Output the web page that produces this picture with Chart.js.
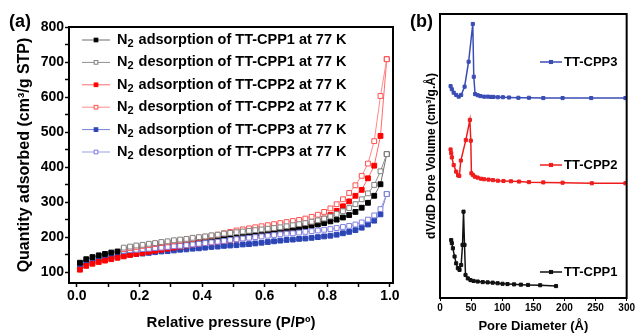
<!DOCTYPE html>
<html>
<head>
<meta charset="utf-8">
<script src="https://cdn.jsdelivr.net/npm/chart.js@4.4.1/dist/chart.umd.min.js"></script>
<style>
  body { margin: 0; background: #fff; }
  #wrap { position: relative; width: 636px; height: 333px; }
  #isoChart { position: absolute; left: 0; top: 0; }
  #poreChart { position: absolute; left: 405px; top: 0; }
</style>
</head>
<body>
<div id="wrap">
  <canvas id="isoChart" width="410" height="333"></canvas>
  <canvas id="poreChart" width="231" height="333"></canvas>
</div>
<script>
// ========================
// DATOS (a) - isotermas N2
// ========================
const adsP = [0.01,0.03,0.05,0.07,0.09,0.11,0.13,0.15,0.17,0.19,
  0.21,0.23,0.25,0.27,0.29,0.31,0.33,0.35,0.37,0.39,
  0.41,0.43,0.45,0.47,0.49,0.51,0.53,0.55,0.57,0.59,
  0.61,0.63,0.65,0.67,0.69,0.71,0.73,0.75,0.77,0.79,
  0.81,0.83,0.85,0.87,0.89,0.91,0.93,0.95,0.97,0.99];
const desP = [0.99,0.97,0.95,0.93,0.91,0.89,0.87,0.85,0.83,0.81,
  0.79,0.77,0.75,0.73,0.71,0.69,0.67,0.65,0.63,0.61,
  0.59,0.57,0.55,0.53,0.51,0.49,0.47,0.45,0.43,0.41,
  0.39,0.37,0.35,0.33,0.31,0.29,0.27,0.25,0.23,0.21,
  0.19,0.17,0.15];

const cpp1Ads = [127,137,143,148,152,156,159,162,165,168,
  170,172,174,176,178,180,182,184,186,188,
  190,192,194,196,198,200,202,204,206,208,
  211,214,217,220,223,226,229,232,236,240,
  245,250,256,263,272,284,298,318,351,437];
const cpp1Des = [437,388,349,325,308,294,283,274,266,259,
  253,248,244,240,237,234,231,228,226,224,
  222,220,218,216,214,212,210,207,205,202,
  200,198,195,193,191,188,186,183,181,178,
  176,173,170];
const cpp2Ads = [107,118,124,129,133,137,141,145,149,152,
  155,158,161,164,167,170,173,176,179,181,
  183,185,187,189,191,194,197,200,203,206,
  209,212,216,220,224,228,233,239,246,253,
  263,275,288,302,318,335,368,404,489,708];
const cpp2Des = [708,603,474,410,375,348,326,308,294,282,
  272,264,258,253,249,246,243,240,237,234,
  231,228,225,222,219,215,211,207,204,201,
  198,195,193,190,188,185,183,180,177,175,
  172,169,166];
const cpp3Ads = [119,126,130,135,138,142,145,148,150,152,
  153,155,157,159,160,162,164,165,167,168,
  170,172,173,175,176,177,179,180,182,184,
  186,188,190,192,193,195,196,198,200,202,
  204,207,211,215,220,227,236,247,265,323];
const cpp3Des = [323,280,262,250,242,236,232,229,226,223,
  221,219,217,215,213,211,210,208,206,204,
  202,200,198,196,194,192,189,187,185,183,
  181,179,177,175,174,172,170,169,167,166,
  164,163,161];

const isoTicksX = [0,0.1,0.2,0.3,0.4,0.5,0.6,0.7,0.8,0.9,1.0];
const isoTicksY = [100,150,200,250,300,350,400,450,500,550,600,650,700,750,800];

// ========================
// DATOS (b) - distribucion de poro
// ========================
const cpp3Dia = [17,19,22,26,30,34,39.5,46,52.7,54.3,56.4,60.6,65,71,77,82,86,93,101,111,126,143,166,197,243,298];
const cpp3Dv  = [74.6,73.5,72.3,71.5,70.9,71.5,74.4,83.2,96.5,77.9,71.8,71.4,71.1,70.9,70.9,70.8,70.8,70.7,70.7,70.6,70.5,70.5,70.4,70.4,70.4,70.4];
const cpp2Dia = [17,18,19,22,26,29,31,33.5,41.5,48,49.5,50.5,53,56,60.5,66,71,78,85,93,102,114,127,143,166,197,244,298];
const cpp2Dv  = [52.3,51,49.5,46.8,44.5,43.2,43.0,48.4,55.6,62.7,55.4,43.9,43.3,42.7,42.4,42.0,41.8,41.7,41.5,41.3,41.2,41.1,41.0,40.8,40.7,40.6,40.4,40.4];
const cpp1Dia = [18,19,20.7,23.4,26,28.7,31.4,34,36.2,37.8,39.4,41,44.7,49,54,60.6,68.6,76.6,84.6,92.6,100.5,108.5,119,130,141.5,161,186.5];
const cpp1Dv  = [20.4,19.3,17.5,14.6,12.2,10.5,9.9,11.6,18.7,30.4,18.7,8.1,6.9,6.3,6.0,5.8,5.6,5.5,5.4,5.2,5.0,4.9,4.8,4.7,4.6,4.5,4.2];
const poreTicksX = [0,50,100,150,200,250,300];

const FONT = "'Liberation Sans', Arial, sans-serif";
Chart.defaults.font.family = FONT;
Chart.defaults.color = '#000';

const pts = (xs, ys) => xs.map((x, i) => ({ x: x, y: ys[i] }));

// ========================
// PLUGINS
// ========================
const frame = {
  id: 'frame',
  afterDraw(chart) {
    const { ctx, chartArea: a } = chart;
    ctx.save();
    ctx.strokeStyle = '#000';
    ctx.lineWidth = 2;
    ctx.strokeRect(a.left, a.top, a.right - a.left, a.bottom - a.top);
    ctx.restore();
  }
};

function marker(ctx, ds, x, y, r) {
  const s = r * Math.SQRT1_2;
  ctx.fillStyle = ds.pointBackgroundColor;
  ctx.strokeStyle = ds.pointBorderColor;
  ctx.lineWidth = ds.pointBorderWidth || 1;
  ctx.fillRect(x - s, y - s, 2 * s, 2 * s);
  ctx.strokeRect(x - s, y - s, 2 * s, 2 * s);
}

const isoLegend = {
  id: 'isoLegend',
  afterDraw(chart) {
    const ctx = chart.ctx;
    ctx.save();
    ctx.fillStyle = '#000';
    ctx.font = "bold 18px " + FONT;
    ctx.textBaseline = 'middle';
    ctx.fillText('(a)', 9, 22);
    chart.data.datasets.forEach((ds, i) => {
      const y = 40 + i * 22.4;
      ctx.strokeStyle = ds.borderColor;
      ctx.lineWidth = 1;
      ctx.beginPath();
      ctx.moveTo(82, y);
      ctx.lineTo(110, y);
      ctx.stroke();
      marker(ctx, ds, 96, y, 2.6);
      const parts = ds.label.split('₂');
      ctx.fillStyle = '#000';
      ctx.font = "bold 14.5px " + FONT;
      ctx.fillText(parts[0], 117, y);
      let x = 117 + ctx.measureText(parts[0]).width;
      ctx.font = "bold 11px " + FONT;
      ctx.fillText('2', x, y + 4);
      x += ctx.measureText('2').width + 1;
      ctx.font = "bold 14.5px " + FONT;
      ctx.fillText(parts[1], x, y);
    });
    ctx.restore();
  }
};

const poreLabels = {
  id: 'poreLabels',
  afterDraw(chart) {
    const ctx = chart.ctx;
    const rowsY = [62, 165, 272];
    ctx.save();
    ctx.fillStyle = '#000';
    ctx.font = "bold 18px " + FONT;
    ctx.textBaseline = 'middle';
    ctx.fillText('(b)', 5, 22);
    chart.data.datasets.forEach((ds, i) => {
      const y = rowsY[i];
      ctx.strokeStyle = ds.borderColor;
      ctx.lineWidth = 1.5;
      ctx.beginPath();
      ctx.moveTo(135, y);
      ctx.lineTo(157, y);
      ctx.stroke();
      marker(ctx, ds, 146, y, 2.2);
      ctx.fillStyle = '#000';
      ctx.font = "bold 13px " + FONT;
      ctx.fillText(ds.label, 159, y + 0.5);
    });
    ctx.restore();
  }
};

// ========================
// (a) ISOTERMAS
// ========================
function serie(label, xs, ys, line, mark, open, order) {
  return {
    label: label,
    data: pts(xs, ys),
    borderColor: line,
    borderWidth: 1,
    pointStyle: 'rect',
    pointRadius: 3.4,
    pointBorderWidth: 1,
    pointBackgroundColor: open ? '#fff' : mark,
    pointBorderColor: mark,
    tension: 0,
    order: order
  };
}

new Chart(document.getElementById('isoChart'), {
  type: 'line',
  data: {
    datasets: [
      serie('N₂ adsorption of TT-CPP1 at 77 K', adsP, cpp1Ads, '#6e6e6e', '#000000', false, 1),
      serie('N₂ desorption of TT-CPP1 at 77 K', desP, cpp1Des, '#8f8f8f', '#808080', true, 0),
      serie('N₂ adsorption of TT-CPP2 at 77 K', adsP, cpp2Ads, '#ff6b6b', '#ff0000', false, 1),
      serie('N₂ desorption of TT-CPP2 at 77 K', desP, cpp2Des, '#ff8a8a', '#ff5050', true, 0),
      serie('N₂ adsorption of TT-CPP3 at 77 K', adsP, cpp3Ads, '#7480d4', '#2b45b5', false, 1),
      serie('N₂ desorption of TT-CPP3 at 77 K', desP, cpp3Des, '#9d9de8', '#7f7fe0', true, 0)
    ]
  },
  options: {
    responsive: false,
    animation: false,
    layout: { padding: { top: 27, right: 17, left: 0, bottom: 0 } },
    plugins: { legend: { display: false }, tooltip: { enabled: false } },
    scales: {
      x: {
        type: 'linear',
        min: -0.025,
        max: 1.01,
        afterBuildTicks: s => { s.ticks = isoTicksX.map(v => ({ value: v })); },
        afterFit: s => { s.height = 50; },
        grid: { drawOnChartArea: false, tickLength: 4, tickWidth: 1.5, tickColor: '#000' },
        border: { color: '#000', width: 2 },
        ticks: {
          autoSkip: false, maxRotation: 0, padding: 1,
          font: { size: 14, weight: 'bold' },
          callback: v => (Math.round(v * 10) % 2 === 0 ? v.toFixed(1) : '')
        },
        title: {
          display: true,
          text: 'Relative pressure (P/Pº)',
          font: { size: 15, weight: 'bold' },
          padding: { top: 0, bottom: 1 }
        }
      },
      y: {
        min: 69,
        max: 800,
        afterBuildTicks: s => { s.ticks = isoTicksY.map(v => ({ value: v })); },
        afterFit: s => { s.width = 69; },
        grid: { drawOnChartArea: false, tickLength: 4, tickWidth: 1.5, tickColor: '#000' },
        border: { color: '#000', width: 2 },
        ticks: {
          autoSkip: false, padding: 1,
          font: { size: 14, weight: 'bold' },
          callback: v => (v % 100 === 0 ? v : '')
        },
        title: {
          display: true,
          text: 'Quantity adsorbed (cm³/g STP)',
          font: { size: 16, weight: 'bold' },
          padding: { top: 15, bottom: 0 }
        }
      }
    }
  },
  plugins: [frame, isoLegend]
});

// ========================
// (b) DISTRIBUCION DE PORO
// ========================
function curva(label, xs, ys, color) {
  return {
    label: label,
    data: pts(xs, ys),
    borderColor: color,
    borderWidth: 1.5,
    pointStyle: 'rect',
    pointRadius: 2.2,
    pointBorderWidth: 1,
    pointBackgroundColor: color,
    pointBorderColor: color,
    tension: 0
  };
}

new Chart(document.getElementById('poreChart'), {
  type: 'line',
  data: {
    datasets: [
      curva('TT-CPP3', cpp3Dia, cpp3Dv, '#3a4db4'),
      curva('TT-CPP2', cpp2Dia, cpp2Dv, '#f01c1c'),
      curva('TT-CPP1', cpp1Dia, cpp1Dv, '#111111')
    ]
  },
  options: {
    responsive: false,
    animation: false,
    layout: { padding: { top: 14, right: 8, left: 0, bottom: 0 } },
    plugins: { legend: { display: false }, tooltip: { enabled: false } },
    scales: {
      x: {
        type: 'linear',
        min: 0,
        max: 300,
        afterBuildTicks: s => { s.ticks = poreTicksX.map(v => ({ value: v })); },
        afterFit: s => { s.height = 35; },
        grid: { drawOnChartArea: false, tickLength: 3, tickWidth: 1, tickColor: '#000' },
        border: { color: '#000', width: 2 },
        ticks: { autoSkip: false, maxRotation: 0, padding: 1, font: { size: 10, weight: 'bold' } },
        title: {
          display: true,
          text: 'Pore Diameter (Å)',
          font: { size: 13, weight: 'bold', lineHeight: 1 },
          padding: { top: 0, bottom: 0 }
        }
      },
      y: {
        min: 0,
        max: 100,
        afterFit: s => { s.width = 35; },
        grid: { drawOnChartArea: false, drawTicks: false },
        border: { color: '#000', width: 2 },
        ticks: { display: false },
        title: {
          display: true,
          text: 'dV/dD Pore Volume (cm³/g.Å)',
          font: { size: 12, weight: 'bold' },
          padding: { top: 19, bottom: 0 }
        }
      }
    }
  },
  plugins: [frame, poreLabels]
});
</script>
</body>
</html>
